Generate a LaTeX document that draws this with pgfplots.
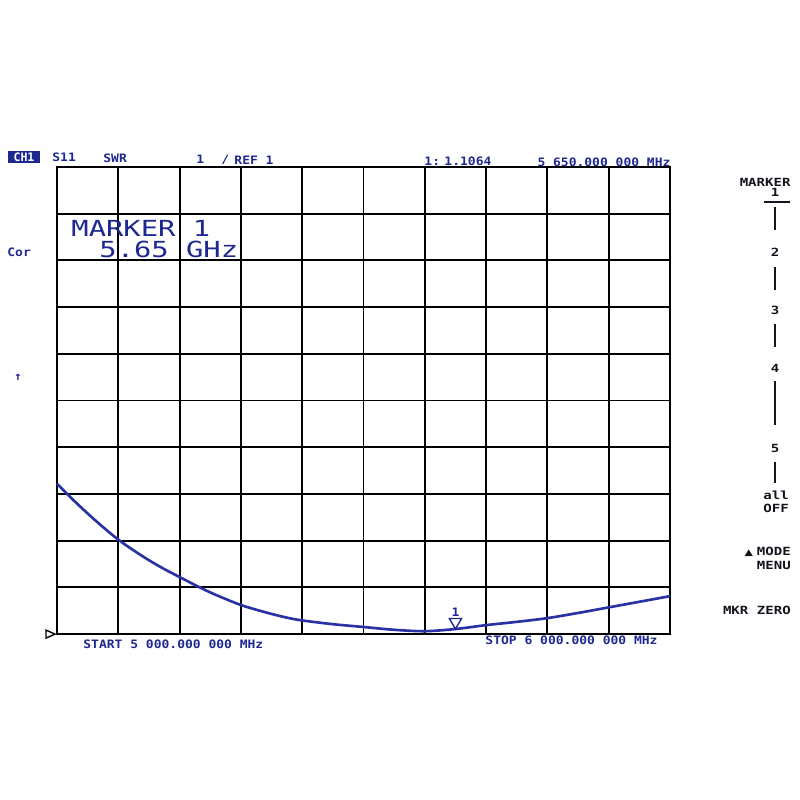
\documentclass[border=0pt]{standalone}
\usepackage{fontspec}
\setmainfont{DejaVu Sans}
\newfontfamily\hdr{DejaVu Sans Mono}
\newfontfamily\symf{DejaVu Sans}
\usepackage{pgfplots}
\pgfplotsset{compat=1.18}
\definecolor{trace}{RGB}{40,50,165}
\definecolor{tblue}{RGB}{30,40,145}
\definecolor{ink}{RGB}{20,20,30}
\newcommand{\sm}{\hdr\bfseries\fontsize{6.6}{7.5}\selectfont}
\newcommand{\rp}{\hdr\bfseries\fontsize{6.4}{7.5}\selectfont}
\newcommand{\bigtxt}{\hdr\fontsize{12.6}{13}\selectfont}
\tikzset{bt/.style={tblue, font=\sm, inner sep=0pt, xscale=1.12},
         rt/.style={ink, font=\rp, inner sep=0pt, xscale=1.25}}
\begin{document}
\begin{tikzpicture}
\useasboundingbox (-1.14,-3.32) rectangle (14.86,12.68);
\begin{axis}[
  at={(0,0)}, anchor=south west,
  scale only axis, width=12.26cm, height=9.34cm,
  xmin=5000, xmax=6000, ymin=1, ymax=11,
  xtick={5000,5100,...,6000}, ytick={1,2,...,11},
  xticklabels={}, yticklabels={},
  major tick length=0pt,
  grid=major, major grid style={black, line width=1.1pt},
  axis line style={black, line width=1.1pt},
  clip=false,
]
\addplot[trace, line width=1.5pt, smooth] coordinates {
(5000,4.22) (5025,3.89) (5050,3.58) (5075,3.29) (5100,3.02) (5125,2.79)
(5150,2.58) (5175,2.39) (5200,2.22) (5225,2.05) (5250,1.89) (5275,1.75)
(5300,1.62) (5325,1.52) (5350,1.43) (5375,1.35) (5400,1.29) (5450,1.21)
(5500,1.15) (5550,1.09) (5600,1.06) (5650,1.1064) (5700,1.19) (5750,1.26)
(5800,1.34) (5850,1.45) (5900,1.57) (5950,1.69) (6000,1.81)};
\addplot[only marks, mark=triangle, mark size=4pt,
  mark options={tblue, line width=0.8pt, yshift=4pt, rotate=180}] coordinates {(5650,1.1064)};
\node[bt] at (axis cs:5650,1.1064) [yshift=0.34cm] {1};
\end{axis}
\begin{scope}[shift={(-1.14cm,12.68cm)}, x=0.02cm, y=-0.02cm]
% header
\node[fill=tblue, text=white, font=\sm, inner sep=0pt, minimum width=0.64cm, minimum height=0.24cm] at (24,157) {CH1};
\node[bt, anchor=west] at (52,157) {S11};
\node[bt, anchor=west] at (103,158) {SWR};
\node[bt, anchor=west] at (196,159) {1};
\node[bt, anchor=west] at (221,160) {/};
\node[bt, anchor=west] at (234,160) {REF 1};
\node[bt, anchor=west] at (424,161) {1:};
\node[bt, anchor=west] at (444,161) {1.1064};
\node[bt, anchor=west] at (537,162) {5 650.000 000 MHz};
% left
\node[bt, anchor=west] at (7,252) {Cor};
\node[bt] at (18,377) {↑};
\draw[black, line width=0.8pt] (46,630)--(55,634)--(46,638)--cycle;
% big marker text
\node[tblue, font=\bigtxt, xscale=1.3, anchor=base west, inner sep=0pt] at (71,236) {MARKER 1};
\node[tblue, font=\bigtxt, xscale=1.3, anchor=base west, inner sep=0pt] at (99,257) {5.65 GHz};
% bottom
\node[bt, anchor=west] at (83,644) {START 5 000.000 000 MHz};
\node[bt, anchor=west] at (485,640) {STOP 6 000.000 000 MHz};
% right panel
\node[rt] at (765,182.5) {MARKER};
\node[rt] at (775,192.5) {1};
\draw[ink, line width=1pt] (764,202)--(790,202);
\draw[ink, line width=1pt] (775,207)--(775,230);
\node[rt] at (775,252) {2};
\draw[ink, line width=1pt] (775,267)--(775,290);
\node[rt] at (775,310) {3};
\draw[ink, line width=1pt] (775,324)--(775,347);
\node[rt] at (775,368) {4};
\draw[ink, line width=1pt] (775,381)--(775,425);
\node[rt] at (775,448) {5};
\draw[ink, line width=1pt] (775,462)--(775,483);
\node[rt] at (776,495) {all};
\node[rt] at (776,508) {OFF};
\node[rt, anchor=east] at (791,552) {\symf\fontsize{5}{6}\selectfont ▲\ \rp MODE};
\node[rt, anchor=east] at (791,565) {MENU};
\node[rt, anchor=east] at (791,610) {MKR ZERO};
\end{scope}
\end{tikzpicture}
\end{document}
